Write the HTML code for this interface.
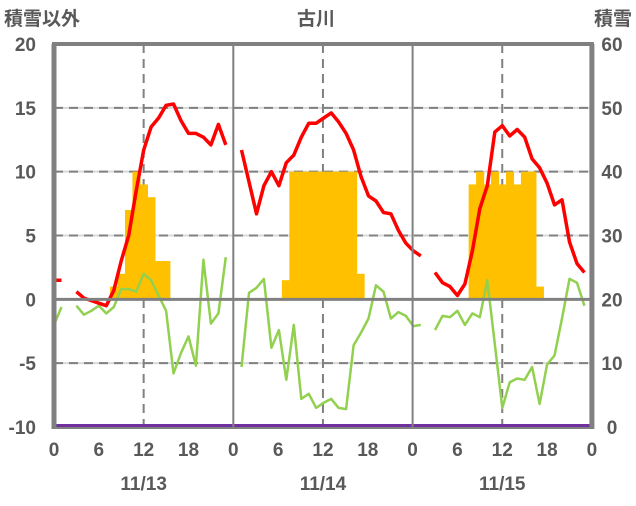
<!DOCTYPE html>
<html><head><meta charset="utf-8"><style>
body{margin:0;background:#fff;}
svg text{font-family:"Liberation Sans","Noto Sans CJK JP",sans-serif;fill:#595959;font-weight:bold;}
</style></head><body>
<svg id="chart" width="636" height="501" viewBox="0 0 636 501" xmlns="http://www.w3.org/2000/svg">
<text x="4" y="25" font-size="19">積雪以外</text>
<text x="316" y="25" font-size="19" text-anchor="middle">古川</text>
<text x="632" y="25" font-size="19" text-anchor="end">積雪</text>
<g id="grid"></g>
<g id="bars"></g>
<g id="lines"></g>
<g id="axes"></g>
</svg>
<script>
const leftTicks=[20,15,10,5,0,-5,-10];
const rightTicks=[60,50,40,30,20,10,0];
const hourTicks=[0,6,12,18,0];
const dates=["11/13","11/14","11/15"];
const startHour=[0,1.1,3];
const red1=[1.5,1.5,null,0.6,0.1,-0.1,-0.3,-0.5,0.7,3.0,5.0,8.5,11.7,13.5,14.2,15.2,15.3,14,13,13,12.7,12.1,13.7,12.1];
const red2=[11.7,9.2,6.7,8.9,10,8.9,10.7,11.3,12.7,13.8,13.8,14.2,14.6,13.9,13,11.7,9.6,8.1,7.7,6.8,6.7,5.4,4.4,3.8,3.4];
const red3=[2.1,1.3,1.0,0.3,1.2,3.8,7.1,8.9,13.1,13.6,12.8,13.3,12.7,11,10.3,9.1,7.4,7.8,4.5,2.8,2.1];
const green1=[-2,-0.6,null,-0.5,-1.2,-0.9,-0.5,-1.1,-0.6,0.8,0.8,0.6,2.0,1.5,0.3,-0.9,-5.8,-4.2,-2.9,-5.2,3.1,-1.9,-1.1,3.3];
const green2=[-5.3,0.5,0.9,1.6,-3.8,-2.4,-6.3,-2.0,-7.8,-7.4,-8.5,-8.1,-7.8,-8.5,-8.6,-3.6,-2.6,-1.5,1.1,0.6,-1.5,-1.0,-1.3,-2.1,-2.0];
const green3=[-2.4,-1.3,-1.4,-0.9,-2.0,-1.1,-1.4,1.5,-3.5,-8.5,-6.5,-6.2,-6.3,-5.3,-8.2,-5.1,-4.4,-1.5,1.6,1.3,-0.5];
const snowStart=[8,7,8];
const snow1=[22,24,34,40,38,36,26,26];
const snow2=[23,40,40,40,40,40,40,40,40,40,24];
const snow3=[38,40,38,40,38,40,38,40,40,22];
const reds=[red1,red2,red3],greens=[green1,green2,green3],snows=[snow1,snow2,snow3];
const X0=54,PW=179.3,T=44,B=427;
const xs=(p,h)=>X0+p*PW+h*PW/24;
const yl=v=>B-(v+10)*(B-T)/30;
const yr=v=>B-v*(B-T)/60;
const NS="http://www.w3.org/2000/svg";
function mk(tag,attrs,parent,txt){const e=document.createElementNS(NS,tag);for(const k in attrs)e.setAttribute(k,attrs[k]);if(txt!==undefined)e.textContent=txt;document.getElementById(parent).appendChild(e);return e;}
leftTicks.forEach(v=>{if(v===20||v===-10||v===0)return;
 const g=mk('line',{x1:X0,x2:X0+3*PW,y1:yl(v),y2:yl(v),stroke:'#d9d9d9','stroke-width':2},'grid');
 
 const d=mk('line',{x1:X0,x2:X0+3*PW,y1:yl(v),y2:yl(v),stroke:'#808080','stroke-width':2,'stroke-dasharray':'9,6'},'grid');
 });
for(let p=0;p<3;p++){const l=mk('line',{x1:xs(p,12),x2:xs(p,12),y1:T,y2:B,stroke:'#808080','stroke-width':2,'stroke-dasharray':'9,6'},'grid');
 }
for(let p=0;p<3;p++){snows[p].forEach((v,i)=>{const h=snowStart[p]+i;const x=xs(p,h-0.5);const w=PW/24+0.6;
 const top=yr(v),base=yr(20);if(top>=base)return;
 const r=mk('rect',{x:x,y:top,width:w,height:base-top,fill:'#ffc000'},'bars');
 });}
function path(arr,p,col,w,name){let d='',pen=false;arr.forEach((v,i)=>{if(v===null){pen=false;return;}
 d+=(pen?'L':'M')+xs(p,startHour[p]+i).toFixed(1)+','+yl(v).toFixed(1);pen=true;});
 const e=mk('path',{d:d,fill:'none',stroke:col,'stroke-width':w,'stroke-linejoin':'round'},'lines');
 }
for(let p=0;p<3;p++){path(greens[p],p,'#92d050',2.5,'green-series-'+(p+1));path(reds[p],p,'#ff0000',3.5,'red-series-'+(p+1));}
const z=mk('line',{x1:X0,x2:X0+3*PW,y1:yl(0),y2:yl(0),stroke:'#808080','stroke-width':3},'axes');

const pu=mk('line',{x1:X0,x2:X0+3*PW,y1:B-1.5,y2:B-1.5,stroke:'#7030a0','stroke-width':3},'axes');

const bx=mk('line',{x1:X0,x2:X0+3*PW,y1:B+1,y2:B+1,stroke:'#808080','stroke-width':2},'axes');

const tp=mk('line',{x1:X0-2,x2:X0+3*PW+2,y1:T,y2:T,stroke:'#808080','stroke-width':4},'axes');

[0,3].forEach(p=>{const a=mk('line',{x1:X0+p*PW,x2:X0+p*PW,y1:T,y2:B+2,stroke:'#808080','stroke-width':5},'axes');
 });
[1,2].forEach(p=>{const a=mk('line',{x1:X0+p*PW,x2:X0+p*PW,y1:T,y2:B+2,stroke:'#808080','stroke-width':2},'axes');
 });
leftTicks.forEach(v=>{const t=mk('text',{x:36,y:yl(v)+7,'font-size':19,'text-anchor':'end'},'axes',String(v));
 });
rightTicks.forEach(v=>{const t=mk('text',{x:612,y:yr(v)+7,'font-size':19,'text-anchor':'middle'},'axes',String(v));
 });
for(let p=0;p<3;p++){hourTicks.forEach((h,i)=>{if(p>0&&i===0)return;const t=mk('text',{x:xs(p,i*6),y:456,'font-size':19,'text-anchor':'middle'},'axes',String(h));
 });
 const d=mk('text',{x:xs(p,12),y:490,'font-size':19,'text-anchor':'middle'},'axes',dates[p]);
 }
</script>
</body></html>
